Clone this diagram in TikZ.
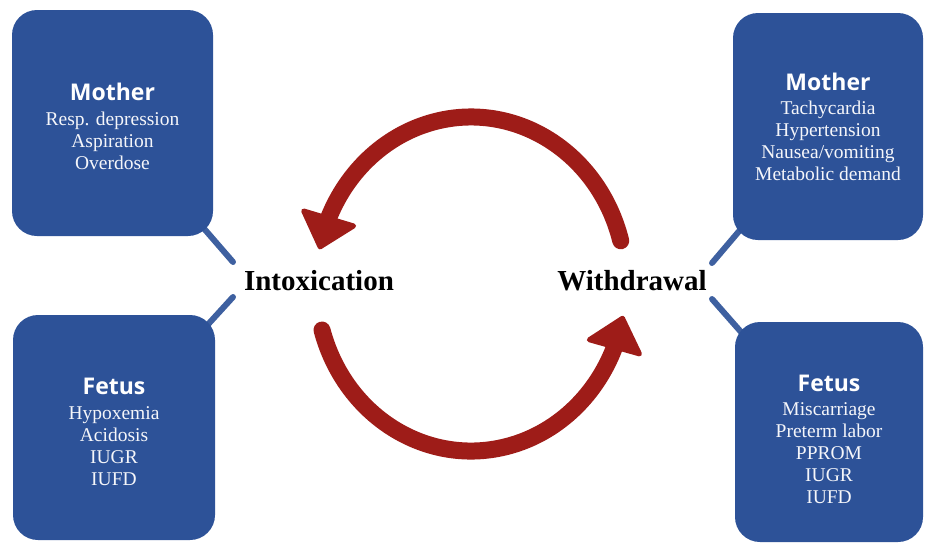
\documentclass[tikz,border=0pt]{standalone}
\usepackage{fontspec}
\setmainfont{Liberation Serif}
\setsansfont{Open Sans}
\usetikzlibrary{arrows.meta,bending,backgrounds,positioning}
\definecolor{boxblue}{RGB}{45,82,152}
\definecolor{cyclered}{RGB}{158,28,24}
\tikzset{
  effectbox/.style={fill=boxblue, rounded corners=25pt, text=white!95!boxblue, align=center, inner sep=0pt,
    font=\fontsize{19.5}{22}\selectfont},
  stagelabel/.style={font=\fontsize{29}{30}\selectfont\bfseries, inner sep=2pt},
  tieline/.style={draw=boxblue!92!white, line width=6pt, line cap=round},
  cyclearrow/.style={draw=cyclered, line width=17pt, line cap=round,
    -{Triangle[length=36pt,width=62pt,round,line width=5pt,flex]}}
}
\newcommand{\boxhead}[2]{{\rule{0pt}{#1}\fontsize{23}{27}\selectfont\sffamily\bfseries\color{white}#2}}
\begin{document}
\begin{tikzpicture}[x=1pt,y=-1pt]
\useasboundingbox (0,0) rectangle (925,544);
% effect boxes
\node[effectbox, minimum width=201pt, minimum height=226pt] (motherL) at (112.5,123)
  {\boxhead{24pt}{Mother}\\[3pt]Resp. depression\\Aspiration\\Overdose};
\node[effectbox, minimum width=202pt, minimum height=225pt] (fetusL) at (114,427.5)
  {\boxhead{25pt}{Fetus}\\[3pt]Hypoxemia\\Acidosis\\IUGR\\IUFD};
\node[effectbox, minimum width=190pt, minimum height=227pt] (motherR) at (828,126.5)
  {\boxhead{19pt}{Mother}\\[2pt]Tachycardia\\Hypertension\\Nausea/vomiting\\Metabolic demand};
\node[effectbox, minimum width=188pt, minimum height=220pt] (fetusR) at (829,432)
  {\boxhead{31pt}{Fetus}\\[2pt]Miscarriage\\Preterm labor\\PPROM\\IUGR\\IUFD};
% stages
\node[stagelabel] (intox) at (319,281) {Intoxication};
\node[stagelabel] (withdr) at (632,281) {Withdrawal};
\coordinate (tieTL) at (233,262);
\coordinate (tieBL) at (233,297);
\coordinate (tieTR) at (712,263);
\coordinate (tieBR) at (712,299);
\begin{scope}[on background layer]
  \draw[tieline] (motherL.center) -- (tieTL);
  \draw[tieline] (fetusL.center) -- (tieBL);
  \draw[tieline] (motherR.center) -- (tieTR);
  \draw[tieline] (fetusR.center) -- (tieBR);
\end{scope}
% cycle
\coordinate (cyc) at (471,284);
\draw[cyclearrow] (cyc) ++(-15:155 and 167) arc[start angle=-15, end angle=-168, x radius=155, y radius=167];
\draw[cyclearrow] (cyc) ++(164:155 and 167) arc[start angle=164, end angle=11, x radius=155, y radius=167];
\end{tikzpicture}
\end{document}
